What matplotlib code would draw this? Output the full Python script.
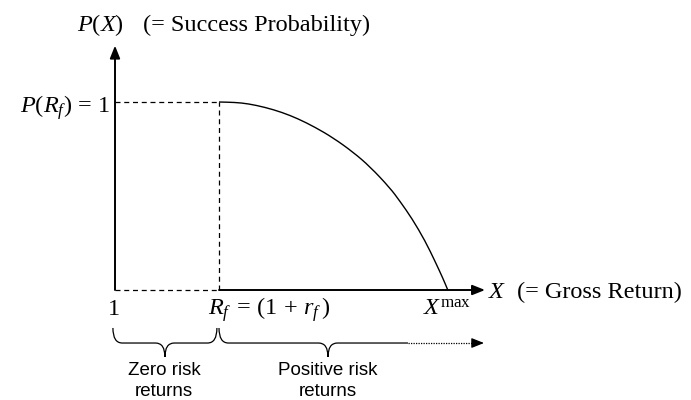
import matplotlib
matplotlib.use("Agg")
import matplotlib.pyplot as plt
from matplotlib.path import Path
from matplotlib.patches import PathPatch

plt.rcParams["mathtext.fontset"] = "custom"
plt.rcParams["mathtext.rm"] = "Liberation Serif"
plt.rcParams["mathtext.it"] = "Liberation Serif:italic"
plt.rcParams["mathtext.bf"] = "Liberation Serif:bold"

# Key levels on the gross-return axis (arbitrary units, no ticks shown)
x_one = 1.0
x_rf = 2.0
x_max = 4.20
p_rf = 1.0

# Success probability curve, from R_f (P = 1) down to X^max (P = 0)
curve_x = [2.000, 2.154, 2.279, 2.442, 2.606, 2.760, 2.923, 3.096, 3.288,
           3.452, 3.644, 3.740, 3.856, 3.981, 4.077, 4.154, 4.200]
curve_p = [1.000, 0.998, 0.991, 0.972, 0.945, 0.911, 0.866, 0.810, 0.734,
           0.656, 0.543, 0.472, 0.380, 0.262, 0.153, 0.061, 0.000]

fig = plt.figure(figsize=(6.91, 4.0), dpi=100)
ax = fig.add_axes([0, 0, 1, 1])
ax.set_xlim(-0.1058, 6.5385)
ax.set_ylim(-0.5851, 1.5426)
ax.axis("off")

serif = "Liberation Serif"
sans = "Liberation Sans"
k = "black"
head = "-|>,head_length=0.75,head_width=0.3"
x_axis_end = 4.558
y_axis_end = 1.300

# Axes with arrowheads
ax.annotate("", xy=(x_one, y_axis_end), xytext=(x_one, 0.0),
            arrowprops=dict(arrowstyle=head, color=k, lw=1.4, shrinkA=0, shrinkB=0))
ax.annotate("", xy=(x_axis_end, 0.0), xytext=(x_rf, 0.0),
            arrowprops=dict(arrowstyle=head, color=k, lw=1.4, shrinkA=0, shrinkB=0))

# Dashed guides
dash = (0, (4, 3))
ax.plot([x_one, x_rf], [p_rf, p_rf], color=k, lw=0.9, ls=dash)
ax.plot([x_rf, x_rf], [0.0, p_rf], color=k, lw=0.9, ls=dash)
ax.plot([x_one, x_rf], [0.0, 0.0], color=k, lw=0.9, ls=dash)

# Curve: smooth quadratic pieces through the sampled points
pts = list(zip(curve_x, curve_p))
mid = [((a[0] + b[0]) / 2, (a[1] + b[1]) / 2) for a, b in zip(pts[:-1], pts[1:])]
verts = [pts[0], mid[0]]
codes = [Path.MOVETO, Path.LINETO]
for i in range(1, len(pts) - 1):
    verts += [pts[i], mid[i]]
    codes += [Path.CURVE3, Path.CURVE3]
verts.append(pts[-1])
codes.append(Path.LINETO)
ax.add_patch(PathPatch(Path(verts, codes), fill=False, color=k, lw=1.0))

# Text labels
fs = 17.5
ax.text(0.86, 1.378, "$P(X)$", fontsize=fs, ha="center", va="baseline")
ax.text(1.27, 1.378, "(= Success Probability)", fontsize=fs, family=serif,
        ha="left", va="baseline")
ax.text(0.955, 0.945, r"$P(R_f)\,=\,1$", fontsize=fs, ha="right", va="baseline")
ax.text(x_one - 0.02, -0.133, "$1$", fontsize=fs, ha="center", va="baseline")
ax.text(x_rf - 0.11, -0.133, r"$R_f\;=\,(1\,+\,r_f\,)$", fontsize=fs, ha="left",
        va="baseline")
ax.text(x_max - 0.005, -0.133, r"$X^{\mathrm{max}}$", fontsize=fs, ha="center",
        va="baseline")
ax.text(4.587, -0.043, "$X$", fontsize=fs, ha="left", va="baseline")
ax.text(4.865, -0.043, "(= Gross Return)", fontsize=fs, family=serif, ha="left",
        va="baseline")

# Curly braces under the axis
yt, yf, yp = -0.202, -0.282, -0.356
rx = 0.09


def brace(x0, xm, x1, right_end=True):
    v = [(x0, yt), (x0, yf), (x0 + rx, yf),
         (xm - rx, yf), (xm, yf), (xm, yp),
         (xm, yf), (xm + rx, yf)]
    c = [Path.MOVETO, Path.CURVE3, Path.CURVE3,
         Path.LINETO, Path.CURVE3, Path.CURVE3,
         Path.CURVE3, Path.CURVE3]
    if right_end:
        v += [(x1 - rx, yf), (x1, yf), (x1, yt)]
        c += [Path.LINETO, Path.CURVE3, Path.CURVE3]
    else:
        v += [(x1, yf)]
        c += [Path.LINETO]
    ax.add_patch(PathPatch(Path(v, c), fill=False, color=k, lw=0.9))


zero_mid = 1.48
pos_mid = 3.048
solid_end = 3.817
brace(x_one - 0.02, zero_mid, x_rf - 0.02)
brace(x_rf, pos_mid, solid_end, right_end=False)
ax.plot([solid_end, 4.48], [yf, yf], color=k, lw=0.9, ls=(0, (1, 1)))
ax.annotate("", xy=(4.548, yf), xytext=(4.47, yf),
            arrowprops=dict(arrowstyle=head, color=k, lw=0.9, shrinkA=0, shrinkB=0))

fs2 = 13.5
ax.text(zero_mid - 0.01, -0.43, "Zero risk", fontsize=fs2, family=sans, ha="center", va="center")
ax.text(zero_mid - 0.01, -0.54, "returns", fontsize=fs2, family=sans, ha="center", va="center")
ax.text(pos_mid, -0.43, "Positive risk", fontsize=fs2, family=sans, ha="center", va="center")
ax.text(pos_mid, -0.54, "returns", fontsize=fs2, family=sans, ha="center", va="center")

fig.savefig("out.png", dpi=100, facecolor="white")
